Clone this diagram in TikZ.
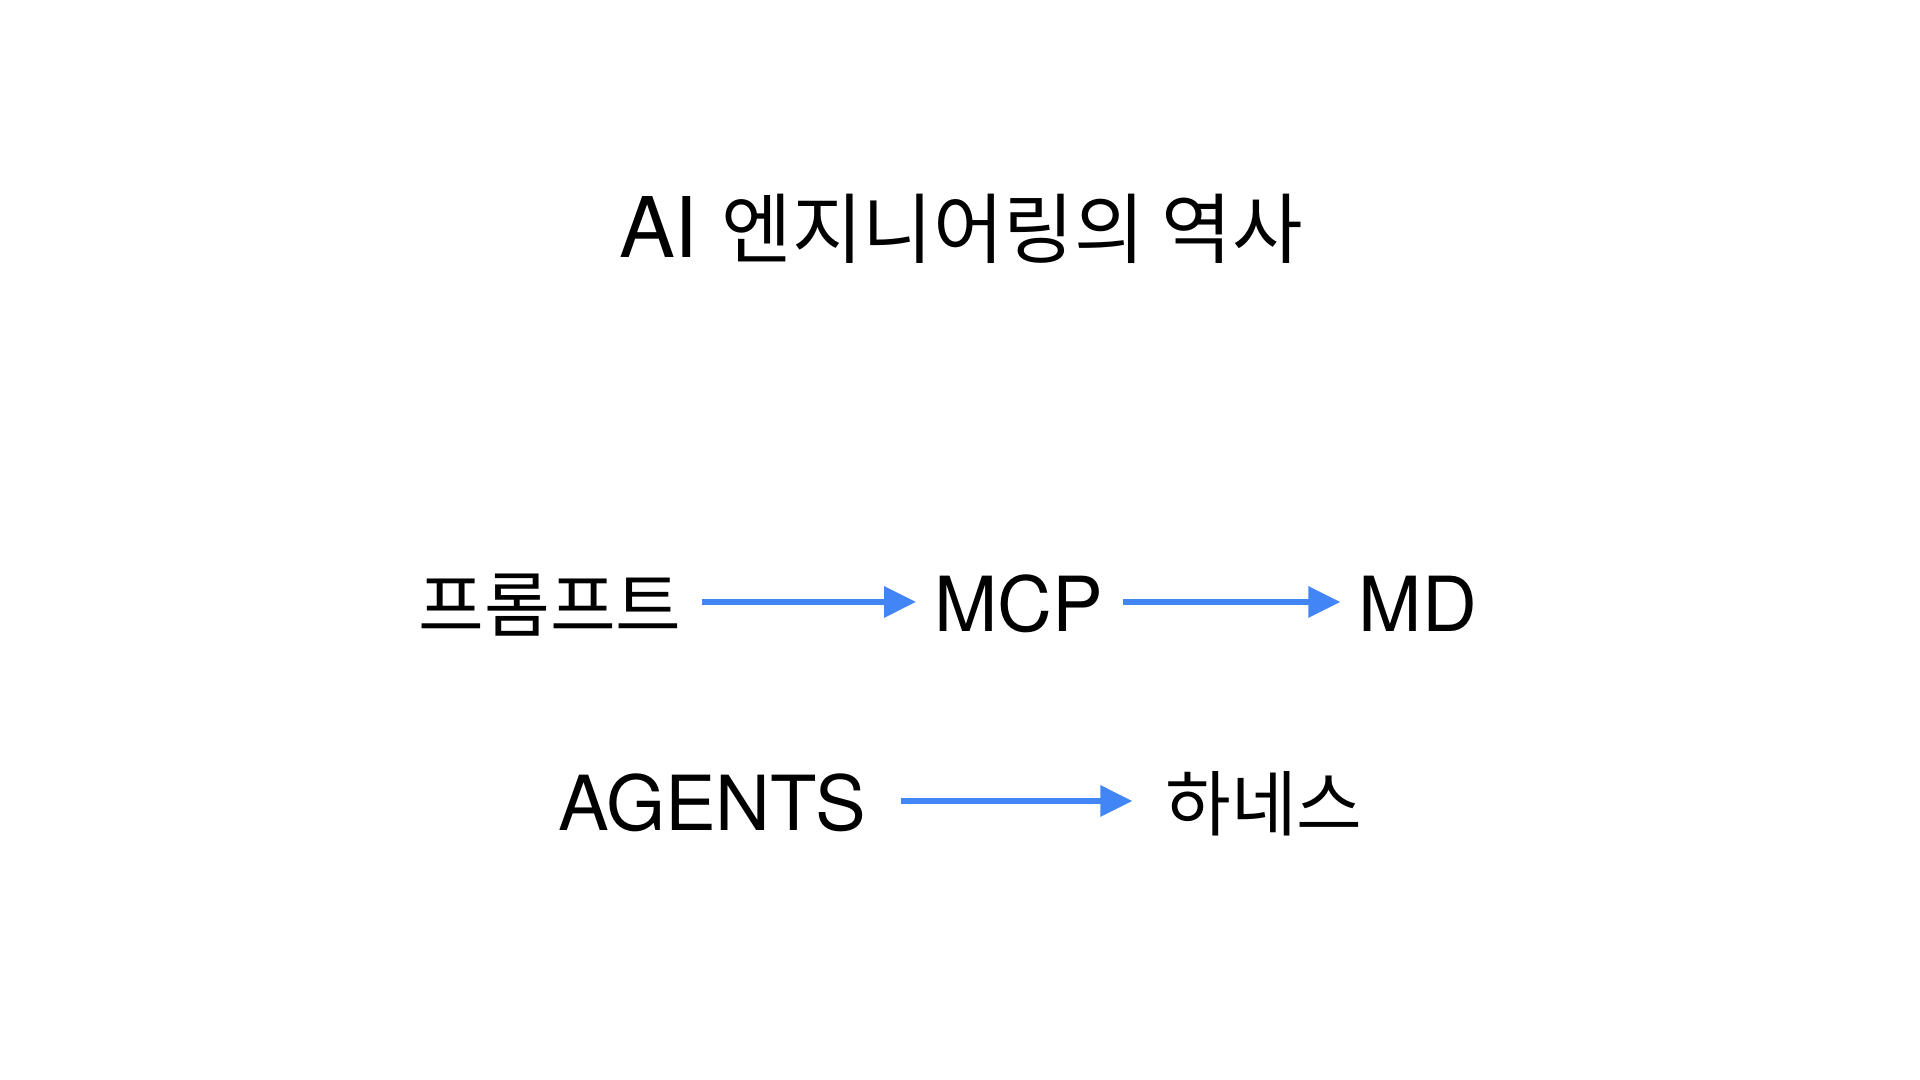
\documentclass[tikz,border=0pt]{standalone}
\usepackage{fontspec}
\setmainfont{TeX Gyre Heros}
\newfontfamily\kr{Noto Sans CJK KR}
\usetikzlibrary{arrows.meta}
\definecolor{arrowblue}{RGB}{66,133,244}
\tikzset{
  px/.style={x=0.01cm,y=-0.01cm},
  lbl/.style={inner sep=0pt,outer sep=0pt,anchor=base,text height=6mm,text depth=0mm,font=\fontsize{21.6}{26}\selectfont},
  krlbl/.style={lbl,font=\kr\fontsize{20.3}{24}\selectfont},
  flow/.style={draw=arrowblue,line width=0.6mm,-{Triangle[length=3.2mm,width=3mm]}},
}
\begin{document}
\begin{tikzpicture}[px]
\useasboundingbox (0,0) rectangle (1920,1080);
\node[inner sep=0pt,anchor=base] (title) at (961,258)
  {\fontsize{23.8}{28}\selectfont AI {\kr\fontsize{21.8}{26}\selectfont 엔지니어링의 역사}};
\node[krlbl] (prompt) at (550,632) {프롬프트};
\node[lbl] (mcp) at (1019,632) {MCP};
\node[lbl] (md) at (1418,632) {MD};
\node[lbl] (agents) at (712,831) {AGENTS};
\node[krlbl] (harness) at (1264,831) {하네스};
\draw[flow,shorten <=2.05mm,shorten >=1.85mm] (prompt.east) -- (mcp.west);
\draw[flow,shorten <=1.95mm,shorten >=1.85mm] (mcp.east) -- (md.west);
\draw[flow,shorten <=3.55mm,shorten >=3.3mm] (agents.east) -- (harness.west);
\end{tikzpicture}
\end{document}
